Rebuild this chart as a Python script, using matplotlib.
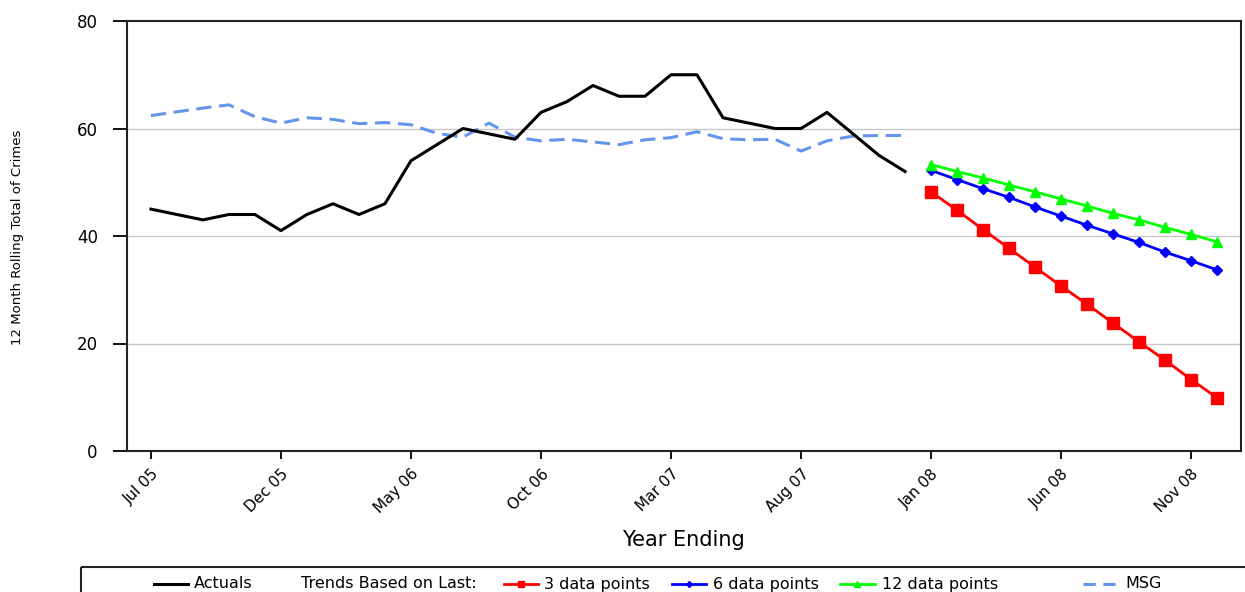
import matplotlib
matplotlib.use("Agg")
import matplotlib.pyplot as plt
import pandas as pd
from matplotlib.patches import Rectangle

plt.rcParams['font.family'] = ['DejaVu Sans']

# months Jul 05 .. Dec 08
months = pd.date_range("2005-07-01", periods=42, freq="MS").strftime("%b %y").tolist()

actuals = [45, 44, 43, 44, 44, 41, 44, 46, 44, 46, 54, 57, 60, 59, 58,
           63, 65, 68, 66, 66, 70, 70, 62, 61, 60, 60, 63, 59, 55, 52]
msg = [62.4, 63.1, 63.8, 64.4, 62.2, 61.0, 62.0, 61.7, 60.9, 61.1,
       60.7, 59.1, 58.4, 61.0, 58.4, 57.7, 58.0, 57.5, 57.0, 57.9,
       58.3, 59.4, 58.1, 57.9, 58.0, 55.8, 57.7, 58.6, 58.7, 58.7]
trend3 = [48.2, 44.8, 41.2, 37.7, 34.2, 30.7, 27.3, 23.8, 20.3, 16.9, 13.3, 9.9]
trend6 = [52.2, 50.5, 48.8, 47.2, 45.4, 43.7, 42.0, 40.4, 38.8, 37.0, 35.4, 33.7]
trend12 = [53.3, 52.0, 50.8, 49.5, 48.2, 46.9, 45.6, 44.2, 43.0, 41.6, 40.3, 38.9]

x_act = list(range(len(actuals)))
x_msg = list(range(len(msg)))
x_trend = list(range(len(actuals), len(actuals) + len(trend3)))

fig = plt.figure(figsize=(12.45, 5.92), dpi=100)
ax = fig.add_axes([127 / 1245, 1 - 451 / 592, (1241 - 127) / 1245, (451 - 21) / 592])

ax.plot(x_act, actuals, color='black', lw=2.2, zorder=3)
ax.plot(x_msg, msg, color='#6495ED', lw=2.2, linestyle=(0, (5, 2.5)), zorder=2)
ax.plot(x_trend, trend3, color='#ff0000', lw=2, marker='s', ms=8.5, zorder=3)
ax.plot(x_trend, trend6, color='#0000ff', lw=2, marker='D', ms=5, zorder=3)
ax.plot(x_trend, trend12, color='#00ff00', lw=2, marker='^', ms=7.5, zorder=3)

ax.set_xlim(-0.92, 41.92)
ax.set_ylim(0, 80)
ax.set_yticks([0, 20, 40, 60, 80])
ax.set_xticks(range(0, 42, 5))
ax.set_xticklabels(months[::5], rotation=45, ha='right', rotation_mode='anchor')
ax.tick_params(axis='y', direction='out', length=10, width=1.3, pad=11, labelsize=12)
ax.tick_params(axis='x', direction='out', length=6, width=1.3, pad=5, labelsize=11)
for y in [20, 40, 60]:
    ax.axhline(y, color='#c8c8c8', lw=1, zorder=1)
for s in ax.spines.values():
    s.set_linewidth(1.5)
    s.set_color('#222222')

fig.text(683 / 1245, 1 - 540 / 592, "Year Ending", ha='center', va='center', fontsize=15)
fig.text(18 / 1245, 1 - 237 / 592, "12 Month Rolling Total of Crimes", rotation=90,
         ha='center', va='center', fontsize=9.5)

# legend strip along the bottom
lax = fig.add_axes([0, 0, 1, 1])
lax.set_xlim(0, 1245)
lax.set_ylim(592, 0)
lax.axis('off')
lax.patch.set_alpha(0)
lax.add_patch(Rectangle((81, 566.5), 1250, 40, fill=False, ec='#222222', lw=1.5))
ly = 584
fs = 11.5
lax.plot([154, 188], [ly, ly], color='black', lw=2.2)
lax.text(194, ly, "Actuals", va='center', fontsize=fs)
lax.text(301, ly, "Trends Based on Last:", va='center', fontsize=fs)
lax.plot([504, 538], [ly, ly], color='#ff0000', lw=2)
lax.plot([521], [ly], color='#ff0000', marker='s', ms=4)
lax.text(544, ly, "3 data points", va='center', fontsize=fs)
lax.plot([672, 706], [ly, ly], color='#0000ff', lw=2)
lax.plot([689], [ly], color='#0000ff', marker='D', ms=3)
lax.text(713, ly, "6 data points", va='center', fontsize=fs)
lax.plot([840, 875], [ly, ly], color='#00ff00', lw=2)
lax.plot([857], [ly], color='#00ff00', marker='^', ms=4)
lax.text(882, ly, "12 data points", va='center', fontsize=fs)
lax.plot([1083, 1118], [ly, ly], color='#6495ED', lw=2.2, linestyle=(0, (4, 2.5)))
lax.text(1125, ly, "MSG", va='center', fontsize=fs)

fig.savefig("out.png", dpi=100)
